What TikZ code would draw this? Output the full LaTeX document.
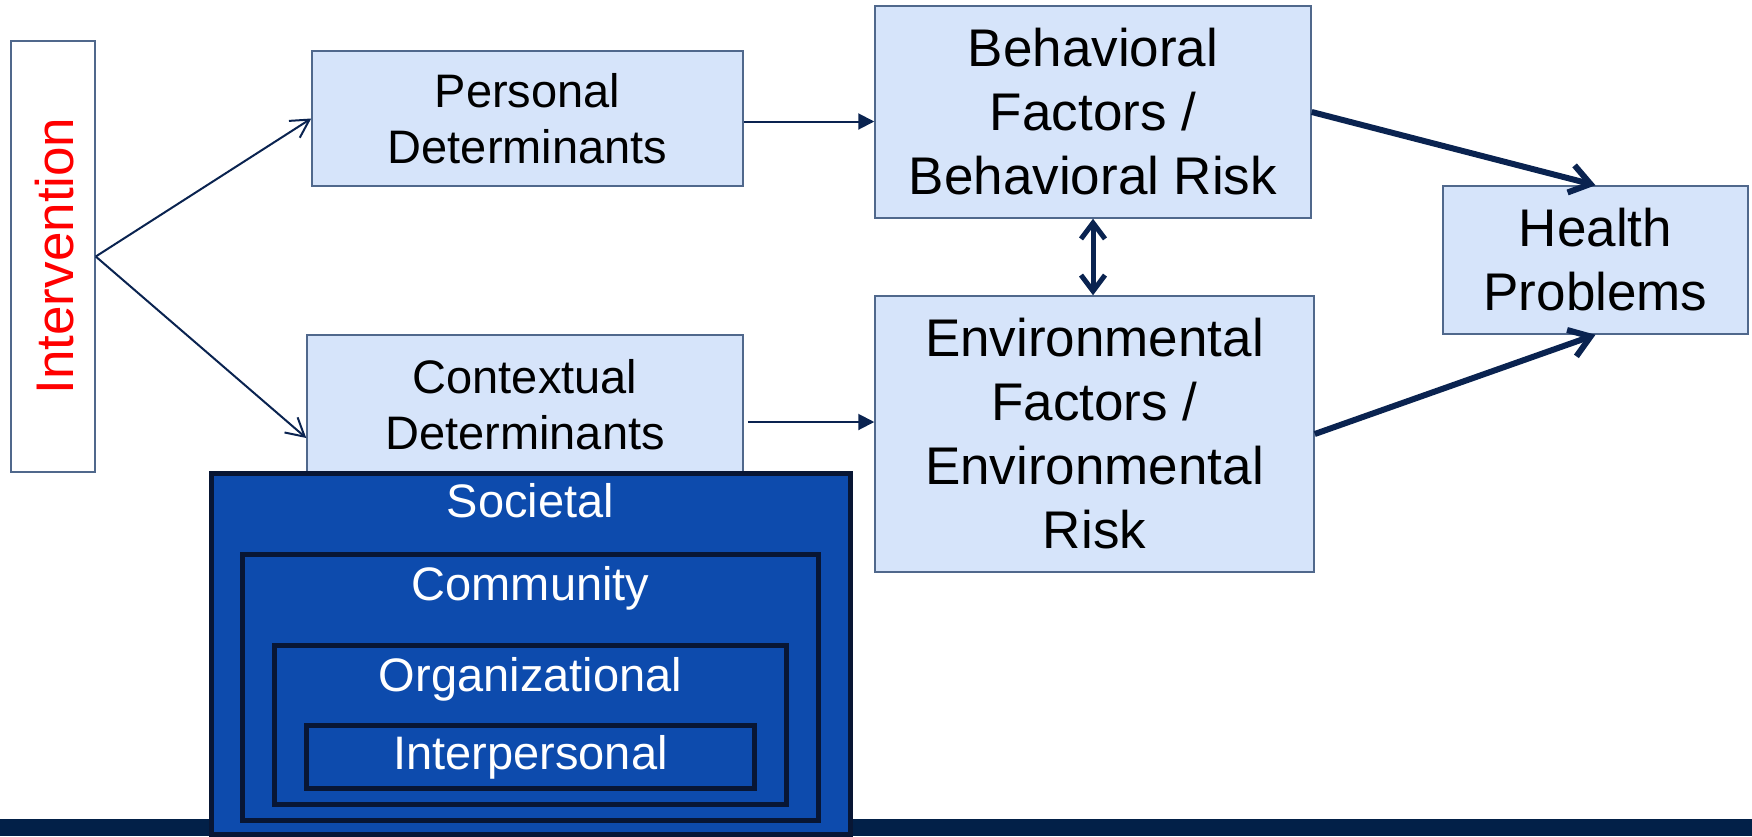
\documentclass[tikz,border=0pt]{standalone}
\usepackage{fontspec}
\setmainfont{Liberation Sans}
\usetikzlibrary{arrows.meta,positioning}
\definecolor{boxfill}{RGB}{214,228,250}
\definecolor{boxline}{RGB}{80,104,140}
\definecolor{navy}{RGB}{10,35,80}
\definecolor{layerblue}{RGB}{13,75,173}
\definecolor{layerline}{RGB}{8,22,52}
\definecolor{barnavy}{RGB}{2,32,72}

\begin{document}
\begin{tikzpicture}[x=1pt,y=-1pt,
    every node/.style={inner sep=0pt},
    factor/.style={draw=boxline,fill=boxfill,line width=1.5pt,align=center,font=\fontsize{53}{64}\selectfont},
    determ/.style={factor,font=\fontsize{47}{56}\selectfont},
    layer/.style={draw=layerline,fill=layerblue,line width=5pt},
    layertxt/.style={text=white,font=\fontsize{47}{56}\selectfont},
    thinarrow/.style={draw=navy,line width=2pt,-{Straight Barb[length=18pt,width=20pt]}},
    fillarrow/.style={draw=navy,line width=2pt,-{Triangle[length=16pt,width=16pt]}},
    boldarrow/.style={draw=navy,line width=6pt,-{Straight Barb[length=20pt,width=28pt]}},
    bothway/.style={draw=navy,line width=5pt,{Straight Barb[length=16pt,width=24pt]}-{Straight Barb[length=16pt,width=24pt]}}]
    \useasboundingbox (0,0) rectangle (1752,836);
    \fill [barnavy] (0,819) rectangle (1752,836);
    \node [factor,fill=white,minimum width=84pt,minimum height=431pt] (interv) at (53,256.5) {};
    \node [text=red,rotate=90,font=\fontsize{53}{64}\selectfont] (intervtxt) at (55,256) {Intervention};
    \node [determ,minimum width=431pt,minimum height=135pt] (pers) at (527.5,118.5) {Personal\\Determinants};
    \node [determ,minimum width=436pt,minimum height=140pt] (ctx) at (525,405) {Contextual\\Determinants};
    \node [factor,minimum width=436pt,minimum height=212pt] (beh) at (1093,112) {Behavioral\\Factors /\\Behavioral Risk};
    \node [factor,minimum width=439pt,minimum height=276pt] (env) at (1094.5,434) {Environmental\\Factors /\\Environmental\\Risk};
    \node [factor,minimum width=305pt,minimum height=148pt] (health) at (1595.5,260) {Health\\Problems};
    % social layers
    \node [layer,minimum width=639pt,minimum height=361pt] (soc) at (530.5,653.5) {};
    \node [layertxt,below=13pt of soc.north] (soctxt) {Societal};
    \node [layer,minimum width=576pt,minimum height=266pt] (comm) at (530.5,687.5) {};
    \node [layertxt,below=14pt of comm.north] (commtxt) {Community};
    \node [layer,minimum width=512pt,minimum height=159pt] (org) at (530.5,725) {};
    \node [layertxt,below=14pt of org.north] (orgtxt) {Organizational};
    \node [layer,layertxt,minimum width=448pt,minimum height=63pt] (inter) at (530.5,757) {Interpersonal};
    % connectors
    \draw [thinarrow] (interv.east) -- (pers.west);
    \draw [thinarrow] (interv.east) -- ([yshift=-33pt]ctx.west);
    \draw [fillarrow] ([yshift=-3pt]pers.east) -- ([yshift=-3pt]pers.east -| beh.west);
    \draw [fillarrow] ([xshift=4pt,yshift=-17pt]ctx.east) -- ([yshift=-17pt]ctx.east -| env.west);
    \draw [bothway] (beh.south) -- (beh.south |- env.north);
    \draw [boldarrow] (beh.east) -- (health.north);
    \draw [boldarrow] (env.east) -- (health.south);
\end{tikzpicture}
\end{document}
